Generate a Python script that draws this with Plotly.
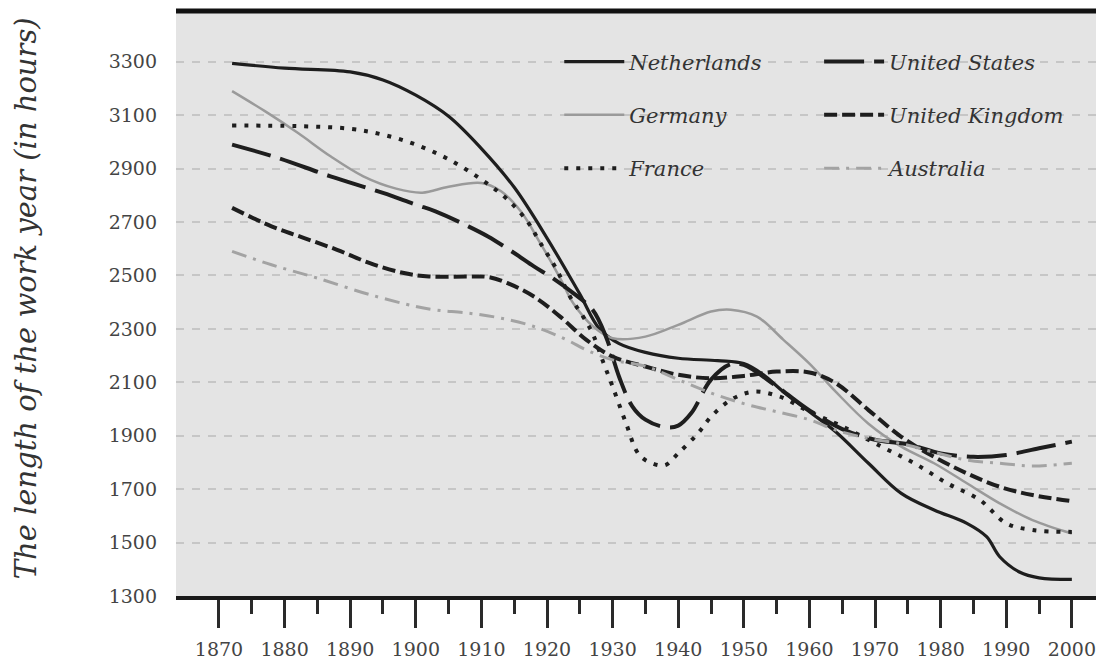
import plotly.graph_objects as go

# hours worked per year
nl_years = [1872, 1880, 1890, 1895, 1900, 1905, 1910, 1915, 1920, 1925, 1928, 1931, 1935, 1940,
            1946, 1950, 1953, 1956, 1960, 1964, 1969, 1974, 1979, 1984, 1987, 1989, 1992, 1995, 2000]
nl_hours = [3294, 3276, 3262, 3232, 3175, 3096, 2975, 2830, 2640, 2430, 2300, 2245, 2212, 2190,
            2181, 2170, 2128, 2065, 1990, 1915, 1797, 1684, 1622, 1572, 1522, 1447, 1390, 1368, 1362]

de_years = [1872, 1877, 1882, 1887, 1892, 1897, 1901, 1905, 1910, 1913, 1916, 1919, 1922, 1924, 1927,
            1930, 1935, 1940, 1945, 1948, 1952, 1956, 1960, 1964, 1969, 1974, 1979, 1984, 1989, 1994, 2000]
de_hours = [3190, 3115, 3034, 2946, 2871, 2825, 2810, 2832, 2846, 2815, 2740, 2620, 2490, 2396, 2310,
            2265, 2271, 2315, 2365, 2372, 2346, 2260, 2170, 2065, 1945, 1859, 1797, 1722, 1647, 1584, 1534]

fr_years = [1872, 1882, 1890, 1895, 1900, 1905, 1910, 1914, 1917, 1919, 1921.5, 1923.5, 1925.5, 1927,
            1928.5, 1930, 1932, 1934, 1936, 1938, 1940, 1943, 1945, 1948, 1951.5, 1955.5, 1960, 1965,
            1971, 1976, 1981, 1986, 1990, 1994, 2000]
fr_hours = [3061, 3059, 3049, 3027, 2990, 2935, 2859, 2784, 2702, 2621, 2521, 2421, 2346, 2280,
            2180, 2084, 1950, 1830, 1797, 1790, 1834, 1909, 1971, 2034, 2065, 2046, 1990, 1935,
            1859, 1797, 1722, 1659, 1572, 1547, 1540]

us_years = [1872, 1879, 1887, 1895, 1900, 1903, 1908, 1911, 1915, 1918, 1920.5, 1924, 1927, 1929,
            1931, 1933, 1935, 1938, 1940, 1942, 1945, 1948, 1950, 1955, 1960, 1965, 1970, 1975,
            1980, 1985, 1990, 1995, 2000]
us_hours = [2990, 2940, 2871, 2809, 2765, 2740, 2684, 2646, 2584, 2534, 2496, 2434, 2370, 2270,
            2120, 2010, 1960, 1932, 1938, 1985, 2110, 2168, 2165, 2085, 1995, 1925, 1885, 1868,
            1834, 1821, 1828, 1853, 1878]

uk_years = [1872, 1878, 1883, 1888, 1893, 1898, 1902, 1908, 1911, 1914, 1918, 1922, 1926, 1930,
            1935, 1940, 1945, 1950, 1955, 1960, 1964, 1969, 1974, 1979, 1984, 1989, 1994, 2000]
uk_hours = [2753, 2684, 2640, 2596, 2546, 2510, 2496, 2496, 2494, 2471, 2421, 2346, 2259, 2196,
            2159, 2128, 2115, 2124, 2140, 2137, 2097, 1996, 1896, 1821, 1759, 1709, 1678, 1655]

au_years = [1872, 1878, 1885, 1893, 1900, 1903, 1908, 1913, 1918, 1923, 1926, 1930, 1935, 1940,
            1945, 1950, 1955, 1960, 1964, 1969, 1974, 1979, 1984, 1989, 1994, 2000]
au_hours = [2590, 2540, 2490, 2428, 2384, 2371, 2359, 2340, 2309, 2259, 2221, 2184, 2160, 2110,
            2060, 2020, 1990, 1960, 1921, 1890, 1870, 1838, 1809, 1797, 1787, 1797]

year_ticks = list(range(1870, 2001, 10))
minor_ticks = list(range(1875, 2000, 10))
hour_ticks = list(range(1300, 3301, 200))

SERIF = "DejaVu Serif"
BG = "#e4e4e4"
DARK = "#1e1e1e"
GREY = "#9a9a9a"

series = [
    # name, x, y, colour, width, dash, legend
    ("Netherlands", nl_years, nl_hours, DARK, 3.2, "solid", "legend"),
    ("Germany", de_years, de_hours, GREY, 2.5, "solid", "legend"),
    ("France", fr_years, fr_hours, DARK, 4, "4px,8px", "legend"),
    ("United States", us_years, us_hours, DARK, 4, "40px,10px", "legend2"),
    ("United Kingdom", uk_years, uk_hours, DARK, 4, "13px,5px", "legend2"),
    ("Australia", au_years, au_hours, "#a3a3a3", 3, "15px,7px,3px,7px", "legend2"),
]

fig = go.Figure()
for name, xs, ys, col, w, dash, leg in series:
    fig.add_trace(go.Scatter(
        x=xs, y=ys, name=name, mode="lines", legend=leg, legendgroup=name,
        line=dict(color=col, width=w, dash=dash, shape="spline", smoothing=1.0),
    ))

legend_common = dict(
    bgcolor="rgba(0,0,0,0)", borderwidth=0, itemwidth=60, tracegroupgap=23,
    font=dict(family=SERIF, size=21, color="#333", style="italic"),
    xanchor="left", yanchor="top", y=0.948, itemclick=False, itemdoubleclick=False,
)

# page has an 8px body margin, so the figure is 8px smaller than the window
fig.update_layout(
    width=1096, height=659,
    paper_bgcolor="white", plot_bgcolor=BG,
    margin=dict(l=168, r=0, t=3, b=71),
    showlegend=True,
    legend=dict(x=0.413, **legend_common),
    legend2=dict(x=0.693, **legend_common),
    xaxis=dict(
        range=[1863.45, 2004.9], tickmode="array", tickvals=year_ticks,
        ticktext=[str(v) for v in year_ticks],
        ticks="outside", ticklen=28, tickwidth=3, tickcolor="#2a2a2a",
        minor=dict(tickmode="array", tickvals=minor_ticks, ticks="outside",
                   ticklen=14, tickwidth=3, tickcolor="#2a2a2a", showgrid=False),
        showline=True, linewidth=3.5, linecolor="#1a1a1a",
        showgrid=False, zeroline=False, ticklabelstandoff=5,
        tickfont=dict(family=SERIF, size=19, color="#444"),
    ),
    yaxis=dict(
        range=[1300, 3490], tickmode="array", tickvals=hour_ticks,
        ticktext=[str(v) for v in hour_ticks],
        ticks="", showline=False, zeroline=False,
        showgrid=True, gridcolor="#c6c6c6", gridwidth=2, griddash="8px,8px",
        ticklabelstandoff=18,
        tickfont=dict(family=SERIF, size=19, color="#444"),
    ),
    annotations=[dict(
        text="The length of the work year (in hours)", textangle=-90,
        xref="paper", yref="paper", x=-0.1615, y=0.509, xanchor="center", yanchor="middle",
        showarrow=False, font=dict(family=SERIF, size=29, color="#333", style="italic"),
    )],
    shapes=[
        # plain panel behind the legend hides the gridlines there
        dict(type="rect", xref="paper", yref="paper", x0=0.381, x1=1, y0=0.685, y1=1,
             fillcolor=BG, line=dict(width=0), layer="between"),
        dict(type="line", xref="paper", yref="paper", x0=0, x1=1, y0=1, y1=1,
             line=dict(color="#111", width=5)),
    ],
)

fig.write_html("out.html")
